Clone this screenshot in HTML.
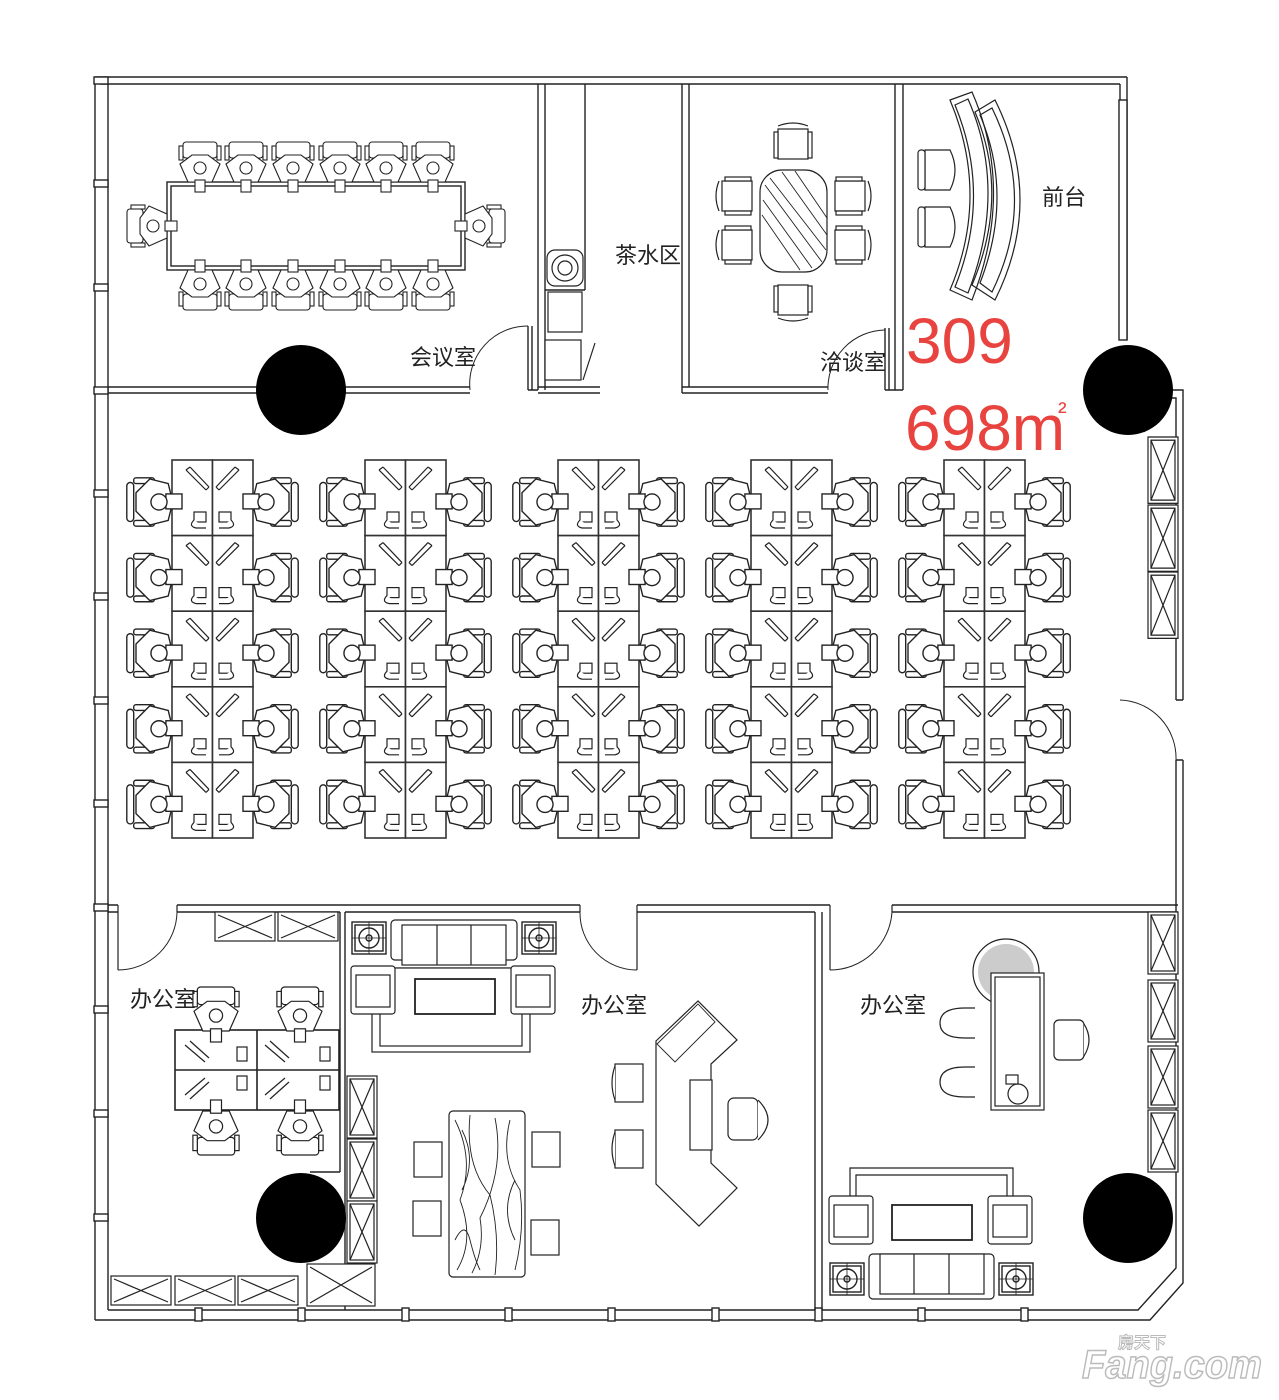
<!DOCTYPE html>
<html><head><meta charset="utf-8"><style>
html,body{margin:0;padding:0;background:#fff;}
svg{display:block;}
text{font-family:"Liberation Sans","Noto Sans CJK SC",sans-serif;}
</style></head><body>
<svg width="1279" height="1400" viewBox="0 0 1279 1400" xmlns="http://www.w3.org/2000/svg">
<defs>
<g id="ch" fill="#fff" stroke="#222" stroke-width="1.2">
  <rect x="-28" y="-17" width="6" height="34" rx="3"/>
  <rect x="-22" y="-21" width="18" height="5" rx="2"/>
  <rect x="-22" y="16" width="18" height="5" rx="2"/>
  <path d="M-20,-8 L-8,-20 L8,-16 L12,0 L8,16 L-8,20 L-20,8 Z"/>
  <rect x="6" y="-7" width="14" height="13"/>
  <circle cx="0" cy="0" r="7"/>
</g>
<g id="row">
  <rect x="0" y="0" width="40.5" height="75.6" fill="#fff" stroke="#333" stroke-width="1.6"/>
  <rect x="40.5" y="0" width="40.5" height="75.6" fill="#fff" stroke="#333" stroke-width="1.6"/>
  <g stroke="#222" stroke-width="1.2" fill="#fff">
    <path d="M14,10 L34,30 M18,7 L37,27 M14,10 L18,7 M34,30 L37,27"/>
    <path d="M67,10 L47,30 M63,7 L44,27 M67,10 L63,7 M47,30 L44,27"/>
    <rect x="22" y="52" width="12" height="10"/><path d="M22,60 q-6,6 2,8 h10"/>
    <rect x="47" y="52" width="12" height="10"/><path d="M59,60 q6,6 -2,8 h-10"/>
  </g>
  <use href="#ch" transform="translate(-13,42) scale(1.15)"/>
  <use href="#ch" transform="translate(94,42) scale(-1.15,1.15)"/>
</g>
<g id="col">
  <use href="#row" y="0"/><use href="#row" y="75.6"/><use href="#row" y="151.2"/><use href="#row" y="226.8"/><use href="#row" y="302.4"/>
</g>
<g id="cc" fill="#fff" stroke="#222" stroke-width="1.1">
  <rect x="-17" y="-30" width="34" height="16" rx="3"/>
  <rect x="-21" y="-26" width="4" height="14"/><rect x="17" y="-26" width="4" height="14"/>
  <path d="M-20,-8 L-8,-17 L8,-17 L20,-8 L12,10 L-12,10 Z"/>
  <rect x="-5" y="8" width="10" height="12"/>
  <circle cx="0" cy="-4" r="6"/>
</g>
<g id="mc" fill="#fff" stroke="#222" stroke-width="1.2">
  <rect x="-15" y="-15" width="30" height="30"/>
  <path d="M-15,-18 q15,-6 30,0"/>
  <rect x="-19" y="-12" width="4" height="26"/><rect x="15" y="-12" width="4" height="26"/>
</g>
<g id="xbox" fill="#fff" stroke="#222" stroke-width="1.2">
  <rect x="0" y="0" width="30" height="62"/><rect x="3" y="3" width="24" height="56"/>
  <path d="M3,3 L27,59 M27,3 L3,59"/>
</g>
<g id="lamp" fill="#fff" stroke="#222" stroke-width="1.4">
  <rect x="0" y="0" width="34" height="32"/><rect x="3" y="3" width="28" height="26"/>
  <circle cx="17" cy="16" r="10"/><circle cx="17" cy="16" r="3"/>
  <path d="M0,16 H34 M17,0 V32" stroke-width="0.8"/>
</g>
<g id="arm" fill="#fff" stroke="#222" stroke-width="1.2">
  <rect x="0" y="0" width="44" height="48" rx="3"/><rect x="5" y="9" width="34" height="32"/>
</g>
</defs>

<g fill="none" stroke="#222" stroke-width="1.4">
<path d="M95,77 H1127 M100,84 H1120"/>
<path d="M95,77 V1320 M108,84 V1310"/>
<path d="M95,1320 H1150 L1183,1283 V760 M108,1310 H1138 L1176,1268 V760"/>
<path d="M1127,77 V340 M1120,84 V340"/>
<path d="M1127,390 H1183 V700 M1127,398 H1176 V700"/>
<path d="M1183,700 H1176 M1183,760 H1176"/>
<path d="M1120,700 A58,58 0 0 1 1176,760" stroke-width="1"/>
<g fill="#fff" stroke-width="1.4">
<rect x="94" y="77" width="14" height="7"/><rect x="94" y="180" width="14" height="7"/><rect x="94" y="284" width="14" height="7"/><rect x="94" y="387" width="14" height="7"/><rect x="94" y="490" width="14" height="7"/><rect x="94" y="593" width="14" height="7"/><rect x="94" y="697" width="14" height="7"/><rect x="94" y="800" width="14" height="7"/><rect x="94" y="904" width="14" height="7"/><rect x="94" y="1006" width="14" height="7"/><rect x="94" y="1110" width="14" height="7"/><rect x="94" y="1214" width="14" height="7"/>
<rect x="195" y="1308" width="7" height="13"/><rect x="298" y="1308" width="7" height="13"/><rect x="402" y="1308" width="7" height="13"/><rect x="505" y="1308" width="7" height="13"/><rect x="608" y="1308" width="7" height="13"/><rect x="712" y="1308" width="7" height="13"/><rect x="815" y="1308" width="7" height="13"/><rect x="918" y="1308" width="7" height="13"/><rect x="1021" y="1308" width="7" height="13"/>
<rect x="1119" y="100" width="8" height="240"/>
</g>
<path d="M108,387 H470 M108,393 H470"/>
<path d="M470,390 A58,58 0 0 1 528,326" stroke-width="1"/>
<path d="M528,326 V390 M532,326 V390 M528,390 H538"/>
<rect x="167" y="182" width="298" height="88"/><rect x="171" y="186" width="290" height="80"/>
<path d="M538,84 V390 M545,84 V390 M585,84 V290 M545,290 H585 M538,387 H600 M538,393 H600"/>
<path d="M682,84 V393 M689,84 V387 M682,387 H828 M682,393 H828"/>
<path d="M828,390 A58,58 0 0 1 885,330" stroke-width="1"/>
<path d="M885,328 V390 M889,328 V390 M885,390 H903"/>
<path d="M895,84 V390 M903,84 V390"/>
<path d="M108,905 H118 M108,912 H118 M177,905 H580 M177,912 H340 M345,912 H580 M637,905 H830 M637,912 H815 M892,905 H1178 M892,912 H1178"/>
<path d="M118,905 V970 M177,905 V912 M580,905 V912 M637,905 V970 M830,905 V970 M892,905 V912" stroke-width="1.2"/>
<path d="M118,970 A59,59 0 0 0 177,912 M580,912 A57,57 0 0 0 637,970 M830,970 A62,62 0 0 0 892,912" stroke-width="1"/>
<path d="M340,912 V1172 M345,912 V1310 M815,912 V1310 M822,912 V1310"/>
<path d="M310,1172 H340"/>
</g>

<g>
<use href="#cc" transform="translate(200,172)"/><use href="#cc" transform="translate(246,172)"/><use href="#cc" transform="translate(293,172)"/><use href="#cc" transform="translate(340,172)"/><use href="#cc" transform="translate(386,172)"/><use href="#cc" transform="translate(433,172)"/>
<use href="#cc" transform="translate(200,280) scale(1,-1)"/><use href="#cc" transform="translate(246,280) scale(1,-1)"/><use href="#cc" transform="translate(293,280) scale(1,-1)"/><use href="#cc" transform="translate(340,280) scale(1,-1)"/><use href="#cc" transform="translate(386,280) scale(1,-1)"/><use href="#cc" transform="translate(433,280) scale(1,-1)"/>
<use href="#cc" transform="translate(157,226) rotate(-90)"/><use href="#cc" transform="translate(475,226) rotate(90)"/>
</g>

<g fill="#fff" stroke="#222" stroke-width="1.2">
<rect x="547" y="250" width="36" height="36" rx="8"/><circle cx="565" cy="268" r="13"/><circle cx="565" cy="268" r="7"/>
<rect x="548" y="292" width="34" height="40"/>
<rect x="545" y="340" width="36" height="40"/><path d="M583,380 L595,343"/>
</g>
<g stroke="#222" stroke-width="1.2" fill="#fff">
<rect x="760" y="170" width="67" height="102" rx="22"/>
<path d="M765,185 L822,262 M763,200 L812,268 M762,215 L800,270 M770,178 L826,250 M782,172 L827,235 M795,171 L827,218" stroke-width="0.9"/>
<use href="#mc" transform="translate(793,144)"/>
<use href="#mc" transform="translate(793,300) scale(1,-1)"/>
<use href="#mc" transform="translate(737,196) rotate(-90)"/><use href="#mc" transform="translate(737,245) rotate(-90)"/>
<use href="#mc" transform="translate(850,196) rotate(90)"/><use href="#mc" transform="translate(850,245) rotate(90)"/>
</g>
<g fill="none" stroke="#222" stroke-width="1.2">
<path d="M950,100 L972,92 Q1015,190 972,300 L950,290 Q990,195 950,100 Z"/>
<path d="M955,105 L968,99 Q1008,190 968,293 L955,287 Q992,195 955,105 Z"/>
<path d="M975,112 L995,100 Q1045,200 995,300 L972,285 Q1010,195 975,112 Z"/>
<path d="M980,115 L992,108 Q1037,200 992,292 L980,283 Q1014,195 980,115 Z"/>
<g fill="#fff"><path d="M925,150 h25 q10,20 0,40 h-25 z"/><path d="M925,207 h25 q10,20 0,40 h-25 z"/>
<rect x="918" y="150" width="7" height="40" rx="3"/><rect x="918" y="207" width="7" height="40" rx="3"/></g>
</g>

<use href="#col" x="172" y="460"/>
<use href="#col" x="365" y="460"/>
<use href="#col" x="558" y="460"/>
<use href="#col" x="751" y="460"/>
<use href="#col" x="944" y="460"/>

<use href="#xbox" transform="translate(1148,437) scale(1,1.07)"/>
<use href="#xbox" transform="translate(1148,505) scale(1,1.07)"/>
<use href="#xbox" transform="translate(1148,572) scale(1,1.07)"/>
<use href="#xbox" transform="translate(1148,912)"/>
<use href="#xbox" transform="translate(1148,980)"/>
<use href="#xbox" transform="translate(1148,1046)"/>
<use href="#xbox" transform="translate(1148,1110)"/>

<g fill="#fff" stroke="#222" stroke-width="1.2">
<rect x="215" y="912" width="60" height="29"/><path d="M218,915 L272,938 M272,915 L218,938"/>
<rect x="278" y="912" width="60" height="29"/><path d="M281,915 L335,938 M335,915 L281,938"/>
<rect x="175" y="1030" width="164" height="80" stroke-width="1.6"/><path d="M257,1030 V1110 M175,1070 H339" stroke-width="1.6"/>
<use href="#cc" transform="translate(216,1020) scale(1.1)"/><use href="#cc" transform="translate(300,1020) scale(1.1)"/>
<use href="#cc" transform="translate(216,1122) scale(1.1,-1.1)"/><use href="#cc" transform="translate(300,1122) scale(1.1,-1.1)"/>
<path d="M185,1045 L205,1062 M190,1041 L209,1058 M265,1045 L285,1062 M270,1041 L289,1058 M185,1095 L205,1078 M190,1099 L209,1082 M265,1095 L285,1078 M270,1099 L289,1082"/>
<rect x="237" y="1047" width="10" height="14"/><rect x="320" y="1047" width="10" height="14"/><rect x="237" y="1076" width="10" height="14"/><rect x="320" y="1076" width="10" height="14"/>
<use href="#xbox" transform="translate(347,1076)"/><use href="#xbox" transform="translate(347,1139)"/><use href="#xbox" transform="translate(347,1201)"/>
<rect x="307" y="1264" width="68" height="42"/><path d="M310,1267 L372,1303 M372,1267 L310,1303"/>
<rect x="111" y="1276" width="60" height="29"/><path d="M114,1279 L168,1302 M168,1279 L114,1302"/>
<rect x="175" y="1276" width="60" height="29"/><path d="M178,1279 L232,1302 M232,1279 L178,1302"/>
<rect x="238" y="1276" width="60" height="29"/><path d="M241,1279 L295,1302 M295,1279 L241,1302"/>
</g>

<g fill="#fff" stroke="#222" stroke-width="1.2">
<rect x="372" y="968" width="158" height="84"/><rect x="380" y="968" width="142" height="78"/>
<rect x="391" y="920" width="126" height="40" rx="4"/><rect x="402" y="925" width="104" height="40"/><path d="M437,925 V965 M471,925 V965"/>
<use href="#lamp" x="352" y="922"/><use href="#lamp" x="522" y="922"/>
<use href="#arm" x="351" y="966"/><use href="#arm" x="511" y="966"/>
<rect x="415" y="979" width="80" height="35" stroke-width="1.8"/>
<rect x="449" y="1111" width="76" height="166" rx="4"/>
<path d="M455,1120 q20,40 5,80 q15,40 -3,70 M470,1115 q-5,50 20,80 q10,40 5,80 M495,1118 q10,50 -15,100 q5,30 -8,55 M510,1120 q-10,40 10,70 q5,40 -5,80 M455,1240 q10,-20 15,0 q5,20 10,30 M462,1130 q15,30 0,60 M515,1180 q-15,30 0,60" stroke-width="0.9"/>
<rect x="414" y="1142" width="28" height="35"/><rect x="413" y="1201" width="28" height="35"/><rect x="532" y="1132" width="28" height="35"/><rect x="531" y="1220" width="28" height="35"/>
<path d="M656,1041 L698,1001 L737,1040 L711,1064 V1163 L737,1188 L699,1226 L656,1184 Z"/>
<path d="M657,1044 L698,1004 L715,1022 L675,1062 Z" stroke-width="0.9"/>
<rect x="690" y="1080" width="22" height="70"/>
<rect x="728" y="1098" width="30" height="42" rx="6"/><path d="M758,1100 q20,20 0,40"/>
<rect x="615" y="1064" width="28" height="38"/><path d="M615,1066 q-6,17 0,34"/>
<rect x="615" y="1130" width="28" height="38"/><path d="M615,1132 q-6,17 0,34"/>
</g>

<g fill="#fff" stroke="#222" stroke-width="1.2">
<circle cx="1006" cy="972" r="33" fill="#fff"/>
<circle cx="1006" cy="972" r="28" fill="#ccc" stroke="none"/>
<rect x="991" y="973" width="53" height="137"/><rect x="995" y="977" width="45" height="129"/>
<circle cx="1018" cy="1094" r="10"/><rect x="1006" y="1075" width="12" height="9"/>
<path d="M975,1008 h-10 q-25,0 -25,15 q0,15 25,15 h10" /><path d="M975,1067 h-10 q-25,0 -25,15 q0,15 25,15 h10"/>
<rect x="1054" y="1020" width="30" height="40" rx="5"/><path d="M1084,1024 q10,16 0,32"/>
<path d="M850,1228 V1168 H1013 V1228 M856,1228 V1175 H1007 V1228"/>
<use href="#arm" x="829" y="1196"/><use href="#arm" x="988" y="1196"/>
<rect x="892" y="1205" width="80" height="35" stroke-width="1.8"/>
<rect x="869" y="1254" width="125" height="45" rx="4"/><rect x="880" y="1254" width="104" height="40"/><path d="M914,1254 V1294 M949,1254 V1294"/>
<use href="#lamp" x="830" y="1263"/><use href="#lamp" x="999" y="1263"/>
</g>

<g fill="#000">
<circle cx="301" cy="390" r="45"/><circle cx="1128" cy="390" r="45"/>
<circle cx="301" cy="1218" r="45"/><circle cx="1128" cy="1218" r="45"/>
</g>

<g font-size="22" fill="#222">
<text x="410" y="365">会议室</text>
<text x="615" y="263">茶水区</text>
<text x="820" y="370">洽谈室</text>
<text x="1042" y="205">前台</text>
<text x="130" y="1007">办公室</text>
<text x="581" y="1013">办公室</text>
<text x="860" y="1013">办公室</text>
</g>
<text x="906" y="363" font-size="64" fill="#e8433f">309</text>
<text x="905" y="450" font-size="64" fill="#e8433f">698m</text>
<text x="1058" y="420" font-size="26" fill="#e8433f">²</text>
<text x="1082" y="1378" font-size="40" font-weight="bold" font-style="italic" fill="#fff" stroke="#bbb" stroke-width="1.5" textLength="180" lengthAdjust="spacingAndGlyphs">Fang.com</text>
<text x="1118" y="1348" font-size="16" font-weight="bold" fill="#fff" stroke="#bbb" stroke-width="1">房天下</text>
</svg>
</body></html>
